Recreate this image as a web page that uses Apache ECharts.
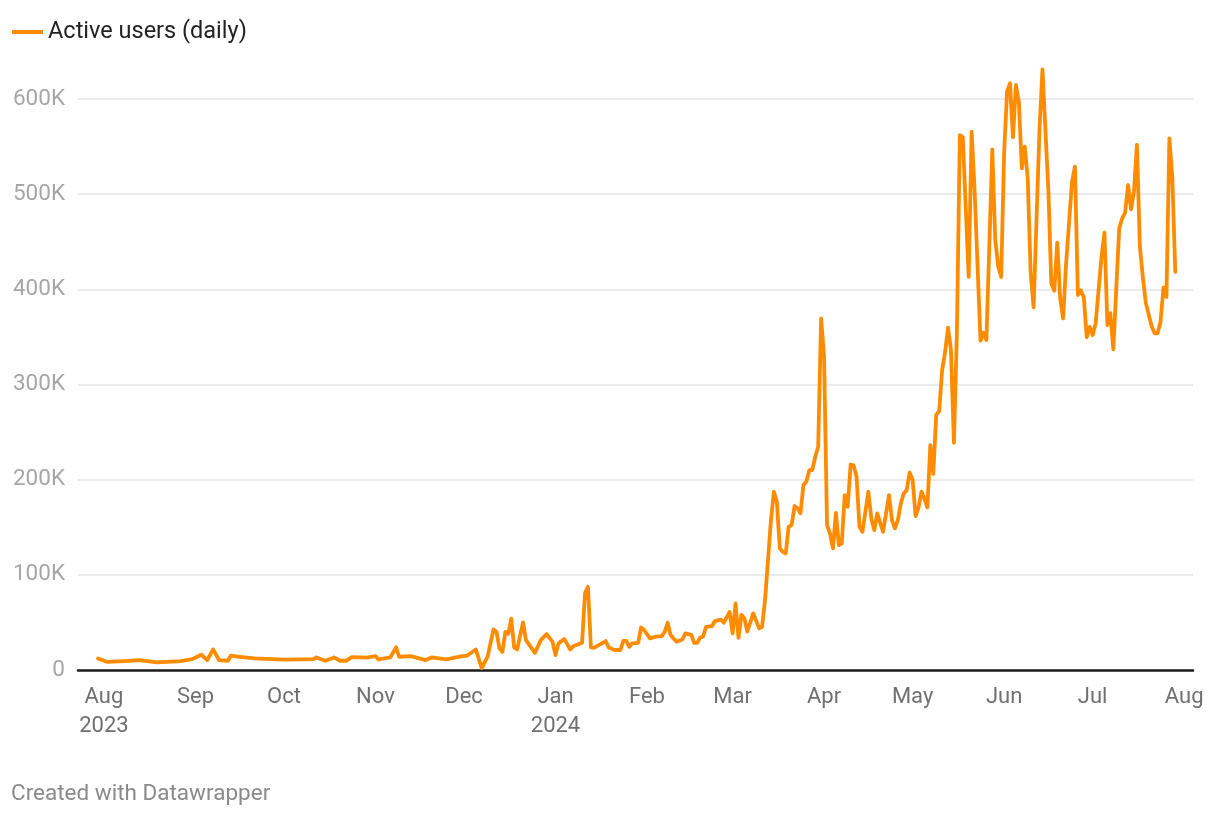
<!DOCTYPE html>
<html>
<head>
<meta charset="utf-8">
<script src="https://cdn.jsdelivr.net/npm/echarts@6/dist/echarts.min.js"></script>
<style>
html,body{margin:0;padding:0;background:#fff;}
#chart{width:1220px;height:816px;}
</style>
</head>
<body>
<div id="chart"></div>
<script>
const seriesName = 'Active users (daily)';
const dates = [
'2023-07-30','2023-08-02','2023-08-08','2023-08-13','2023-08-19','2023-08-27','2023-08-31','2023-09-03','2023-09-05','2023-09-07',
'2023-09-09','2023-09-12','2023-09-13','2023-09-16','2023-09-21','2023-10-01','2023-10-11','2023-10-12','2023-10-15','2023-10-18',
'2023-10-20','2023-10-22','2023-10-24','2023-10-29','2023-11-01','2023-11-02','2023-11-06','2023-11-08','2023-11-09','2023-11-13',
'2023-11-18','2023-11-20','2023-11-25','2023-11-30','2023-12-02','2023-12-05','2023-12-07','2023-12-09','2023-12-11','2023-12-12',
'2023-12-13','2023-12-14','2023-12-15','2023-12-16','2023-12-17','2023-12-18','2023-12-19','2023-12-21','2023-12-22','2023-12-25',
'2023-12-27','2023-12-29','2023-12-31','2024-01-01','2024-01-02','2024-01-04','2024-01-06','2024-01-07','2024-01-10','2024-01-11',
'2024-01-12','2024-01-13','2024-01-14','2024-01-17','2024-01-18','2024-01-19','2024-01-21','2024-01-23','2024-01-24','2024-01-25',
'2024-01-26','2024-01-27','2024-01-29','2024-01-30','2024-01-31','2024-02-02','2024-02-04','2024-02-06','2024-02-07','2024-02-08',
'2024-02-09','2024-02-11','2024-02-13','2024-02-14','2024-02-16','2024-02-17','2024-02-18','2024-02-19','2024-02-20','2024-02-21',
'2024-02-23','2024-02-24','2024-02-26','2024-02-27','2024-02-29','2024-03-01','2024-03-02','2024-03-03','2024-03-04','2024-03-05',
'2024-03-06','2024-03-08','2024-03-10','2024-03-11','2024-03-12','2024-03-14','2024-03-15','2024-03-16','2024-03-17','2024-03-18',
'2024-03-19','2024-03-20','2024-03-21','2024-03-22','2024-03-23','2024-03-24','2024-03-25','2024-03-26','2024-03-27','2024-03-28',
'2024-03-29','2024-03-30','2024-03-31','2024-04-01','2024-04-02','2024-04-03','2024-04-04','2024-04-05','2024-04-06','2024-04-07',
'2024-04-08','2024-04-09','2024-04-10','2024-04-11','2024-04-12','2024-04-13','2024-04-14','2024-04-16','2024-04-17','2024-04-18',
'2024-04-19','2024-04-21','2024-04-23','2024-04-24','2024-04-25','2024-04-26','2024-04-27','2024-04-28','2024-04-29','2024-04-30',
'2024-05-01','2024-05-02','2024-05-03','2024-05-04','2024-05-05','2024-05-06','2024-05-07','2024-05-08','2024-05-09','2024-05-10',
'2024-05-11','2024-05-12','2024-05-13','2024-05-14','2024-05-15','2024-05-16','2024-05-17','2024-05-18','2024-05-20','2024-05-21',
'2024-05-22','2024-05-24','2024-05-25','2024-05-26','2024-05-28','2024-05-29','2024-05-30','2024-05-31','2024-06-01','2024-06-02',
'2024-06-03','2024-06-04','2024-06-05','2024-06-06','2024-06-07','2024-06-08','2024-06-09','2024-06-10','2024-06-11','2024-06-13',
'2024-06-14','2024-06-16','2024-06-17','2024-06-18','2024-06-19','2024-06-20','2024-06-21','2024-06-22','2024-06-24','2024-06-25',
'2024-06-26','2024-06-27','2024-06-28','2024-06-29','2024-06-30','2024-07-01','2024-07-02','2024-07-04','2024-07-05','2024-07-06',
'2024-07-07','2024-07-08','2024-07-10','2024-07-11','2024-07-12','2024-07-13','2024-07-14','2024-07-15','2024-07-16','2024-07-17',
'2024-07-18','2024-07-19','2024-07-21','2024-07-22','2024-07-23','2024-07-24','2024-07-25','2024-07-26','2024-07-27','2024-07-28',
'2024-07-29'
];
// active users, in thousands
const activeUsersK = [
12,8.6,9.4,10.4,8,9.4,11.5,16,10.4,21.6,
10.4,9.7,15,13.9,12.2,11,11.5,13.2,9.7,13.2,
9.7,9.7,13.6,13,14.6,11.1,13.2,23.8,13.9,14.6,
10.4,13.2,11.1,14.3,15,21.6,2,14,42.7,40,
22.7,19,40,38,54,23.7,21.6,50,31.4,18,
31.4,37.7,29.6,15.7,28,32.5,21.6,25,28.6,80.5,
87.4,23.7,23.3,28.6,30.4,23.7,21,21,30.7,30.5,
24.4,28,28.5,44.8,42,33.2,35,35.6,40,49.6,
36.7,29.6,32,38.5,37,28.6,28.5,34,35,45.4,
46,51.4,53,49.6,61,38.5,70,33.8,58,54.2,
40.5,59.5,43.7,45.4,73.5,157.5,187.3,176.8,127.8,124.2,
122.5,150.5,152.3,172.3,170,164.6,194.3,198,210,210,
224,234.6,369.5,329,152.3,143.5,127.8,165.2,131.3,133,
183.8,171.5,216,215,203,150.5,145.2,187.3,159.3,147,
164.6,145.2,183.8,157.5,148.8,157.5,175,185.6,189,207.5,
200,161.7,170.9,187.5,180,170.9,236.4,206,268,272,
315,334,359.7,336,238.8,353.8,562,560,413,565.6,
504,346,354.4,346.7,547,452,424,413,543,607.7,
616.5,559.7,614.7,597,527,550,516.7,416.8,381,569,
631,504,406,398.5,449,390.5,369.5,427,513,529,
394,399,391.6,349.6,360.7,352,364,434,459.5,362.5,
375,337,464,474.6,480.5,509.6,484,502.6,551.7,444.8,
413,386,361,353.8,353.8,366,402,392,558.7,516.7,
418.5
];
const yTicks = [0, 100000, 200000, 300000, 400000, 500000, 600000];
const monthNames = ['Jan','Feb','Mar','Apr','May','Jun','Jul','Aug','Sep','Oct','Nov','Dec'];
const footerText = 'Created with Datawrapper';

const DAY = 864e5;
const lineData = dates.map((d, i) => [d, activeUsersK[i] * 1000]);
const axisMin = new Date(2023, 6, 23, 5).getTime();
const axisMax = new Date(2024, 7, 4).getTime();

const chart = echarts.init(document.getElementById('chart'));
chart.setOption({
  backgroundColor: '#ffffff',
  animation: false,
  textStyle: { fontFamily: 'Roboto' },
  legend: {
    left: 7, top: 15,
    icon: 'rect', itemWidth: 31, itemHeight: 4, itemGap: 10,
    textStyle: { fontSize: 23.5, color: '#222', fontFamily: 'Roboto' },
    data: [seriesName]
  },
  grid: { left: 78, right: 27, top: 99, bottom: 146, containLabel: false },
  xAxis: {
    type: 'time',
    min: axisMin, max: axisMax,
    splitNumber: 12,
    minInterval: 28 * DAY,
    maxInterval: 31 * DAY,
    axisLine: { show: true, lineStyle: { color: '#1d1d1d', width: 2.5 } },
    axisTick: { show: false },
    splitLine: { show: false },
    axisLabel: {
      fontSize: 22, color: '#707070', fontFamily: 'Roboto', margin: 13, lineHeight: 29,
      hideOverlap: false,
      formatter: function (value) {
        const d = new Date(value);
        const m = monthNames[d.getMonth()];
        if (d.getMonth() === 7 && d.getFullYear() === 2023) return m + '\n2023';
        if (d.getMonth() === 0) return m + '\n' + d.getFullYear();
        return m;
      }
    }
  },
  yAxis: {
    type: 'value', min: yTicks[0], max: yTicks[yTicks.length - 1], interval: 100000,
    axisLine: { show: false }, axisTick: { show: false },
    splitLine: { show: true, lineStyle: { color: '#e4e4e4', width: 1.5 } },
    axisLabel: {
      fontSize: 22.5, color: '#a6a6a6', fontFamily: 'Roboto', margin: 13,
      formatter: v => v === 0 ? '0' : (v / 1000) + 'K'
    }
  },
  series: [{
    name: seriesName, type: 'line', data: lineData,
    showSymbol: false, symbol: 'none', clip: false,
    lineStyle: { color: '#ff8c00', width: 3.8, join: 'round', cap: 'round' },
    itemStyle: { color: '#ff8c00' },
    z: 3
  }],
  graphic: [{
    type: 'text', left: 11, top: 783,
    style: { text: footerText, fontSize: 22.5, fill: '#8a8a8a', fontFamily: 'Roboto' }
  }]
});
</script>
</body>
</html>
